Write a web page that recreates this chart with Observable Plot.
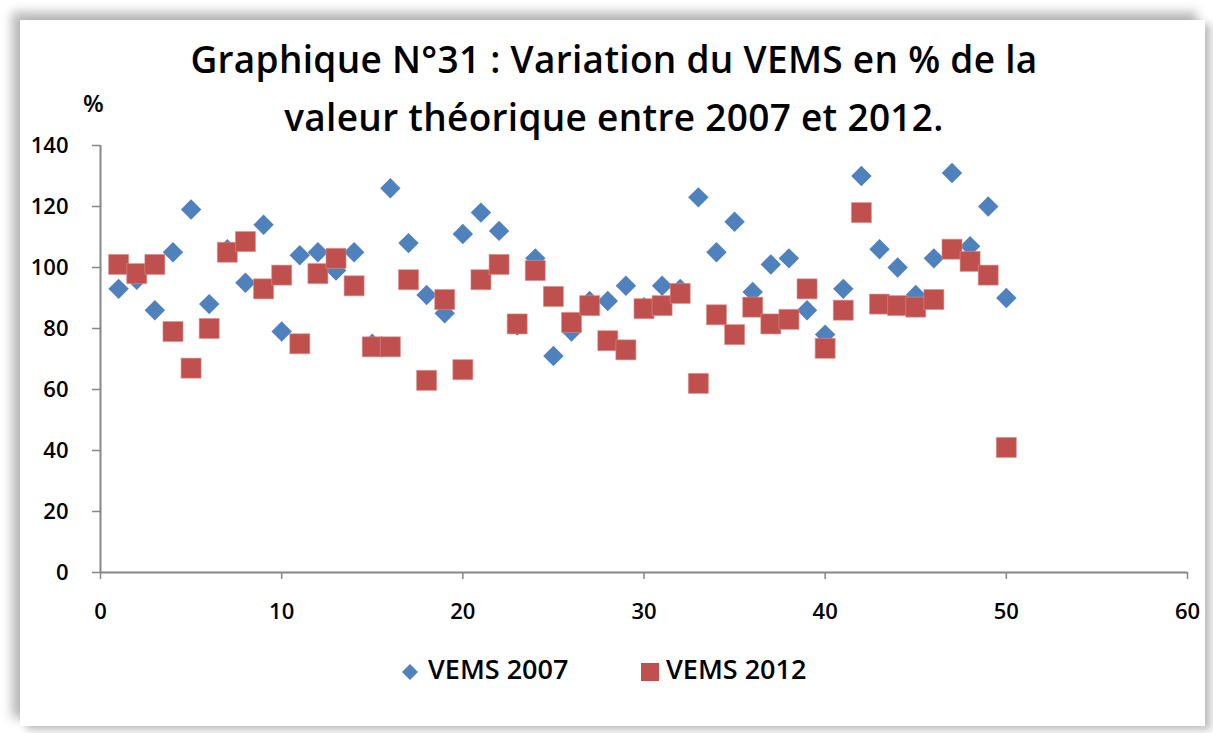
<!DOCTYPE html>
<html>
<head>
<meta charset="utf-8">
<script src="https://cdn.jsdelivr.net/npm/d3@7"></script>
<script src="https://cdn.jsdelivr.net/npm/@observablehq/plot@0.6"></script>
<style>
  html, body { margin: 0; padding: 0; background: #fff; }
  body { width: 1213px; height: 733px; position: relative; overflow: hidden; font-family: "Open Sans", sans-serif; }
  #frame { position: absolute; left: 20px; top: 20px; width: 1185px; height: 706px; background: #fff;
           box-shadow: -8px -8px 10px rgba(0,0,0,0.28), 6px 4px 8px rgba(0,0,0,0.25); }
  #title { position: absolute; left: 0; width: 1228px; top: 30px; text-align: center; font-size: 37px; font-weight: 600; line-height: 58px; color: #000; letter-spacing: 0.3px; }
  #unit { position: absolute; left: 83px; top: 86px; font-size: 24px; font-weight: 600; }
  #chart { position: absolute; left: 0; top: 0; }
  #legend { position: absolute; top: 650px; left: 0; width: 1213px; font-size: 27px; font-weight: 600; }
  .li { position: absolute; top: 0; line-height: 38px; }
  .sw { display: inline-block; vertical-align: middle; }
</style>
</head>
<body>
<div id="frame"></div>
<div id="chart"></div>
<div id="title">Graphique N°31 : Variation du VEMS en % de la<br>valeur théorique entre 2007 et 2012.</div>
<div id="unit">%</div>
<div id="legend">
  <div class="li" style="left:400px"><svg class="sw" width="20" height="20" style="margin-right:8px"><path d="M10,2L18,10L10,18L2,10Z" fill="#4F81BD"/></svg>VEMS 2007</div>
  <div class="li" style="left:640px"><svg class="sw" width="20" height="20" style="margin-right:6px"><rect x="1" y="1" width="18" height="18" fill="#C0504D"/></svg>VEMS 2012</div>
</div>
<script>
const patients = d3.range(1, 51);
const vems2007 = [93, 96, 86, 105, 119, 88, 106, 95, 114, 79,
                  104, 105, 99, 105, 75, 126, 108, 91, 85, 111,
                  118, 112, 81, 103, 71, 79, 89, 89, 94, 87,
                  94, 93, 123, 105, 115, 92, 101, 103, 86, 78,
                  93, 130, 106, 100, 91, 103, 131, 107, 120, 90];
const vems2012 = [101, 98, 101, 79, 67, 80, 105, 108.5, 93, 97.5,
                  75, 98, 103, 94, 74, 74, 96, 63, 89.5, 66.5,
                  96, 101, 81.5, 99, 90.5, 82, 87.5, 76, 73, 86.5,
                  87.5, 91.5, 62, 84.5, 78, 87, 81.5, 83, 93, 73.5,
                  86, 118, 88, 87.5, 87, 89.5, 106, 102, 97.5, 41];
const xTicks = [0, 10, 20, 30, 40, 50, 60];
const yTicks = [0, 20, 40, 60, 80, 100, 120, 140];

const d07 = patients.map((p, i) => ({x: p, y: vems2007[i]}));
const d12 = patients.map((p, i) => ({x: p, y: vems2012[i]}));

const axisColor = "#868686";
const chart = Plot.plot({
  width: 1213,
  height: 733,
  marginLeft: 100,
  marginRight: 26,
  marginTop: 145,
  marginBottom: 161,
  style: {fontFamily: "Open Sans, sans-serif", fontSize: "22px", fontWeight: 600, color: "#000", background: "transparent", overflow: "visible"},
  x: {domain: [0, 60], ticks: xTicks, label: null},
  y: {domain: [0, 140], ticks: yTicks, label: null},
  marks: [
    Plot.ruleX([0], {stroke: axisColor, strokeWidth: 2}),
    Plot.ruleY([0], {stroke: axisColor, strokeWidth: 2}),
    Plot.axisX({ticks: xTicks, tickSize: 7, tickPadding: 24, stroke: axisColor, strokeWidth: 1.5, tickFormat: d3.format("d"), fill: "#000"}),
    Plot.axisY({ticks: yTicks, tickSize: 8, tickPadding: 24, stroke: axisColor, strokeWidth: 1.5, tickFormat: d3.format("d"), fill: "#000"}),
    Plot.dot(d07, {x: "x", y: "y", symbol: "diamond2", r: 9.2, fill: "#4F81BD", stroke: null}),
    Plot.dot(d12, {x: "x", y: "y", symbol: "square", r: 11.3, fill: "#C0504D", stroke: "#D9908E", strokeWidth: 0.6})
  ]
});
document.getElementById("chart").appendChild(chart);
</script>
</body>
</html>
